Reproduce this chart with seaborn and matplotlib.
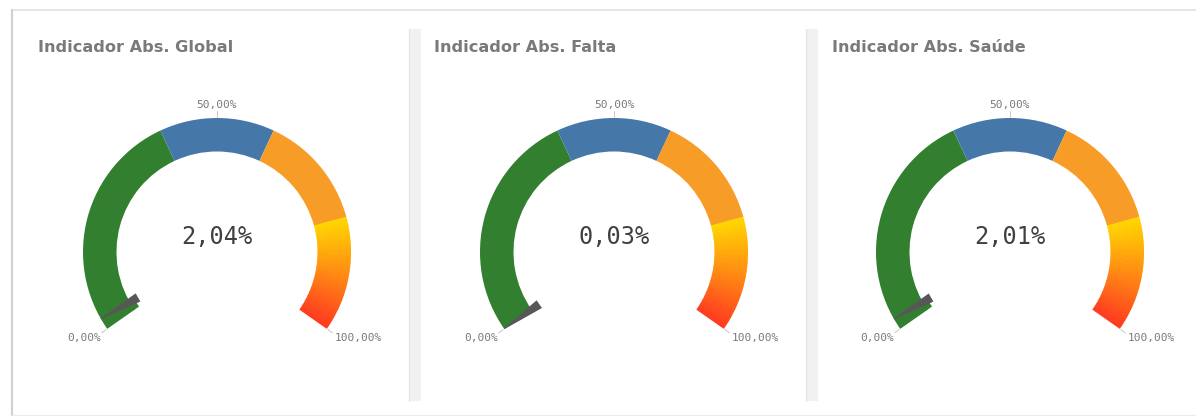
import numpy as np
import matplotlib
matplotlib.use("Agg")
import matplotlib.pyplot as plt
import seaborn as sns
from matplotlib.patches import Wedge, Polygon, Rectangle
from matplotlib.lines import Line2D
from matplotlib.colors import LinearSegmentedColormap

# ------------------------------
# Data
# ------------------------------
titles = ["Indicador Abs. Global", "Indicador Abs. Falta", "Indicador Abs. Saúde"]
values = [2.04, 0.03, 2.01]            # percent
band_edges = [0, 40, 60, 80, 100]      # percent
band_colors = ["#32802f", "#4677a9", "#f89c28", "gradient"]
tick_values = [0, 50, 100]
tick_labels = ["0,00%", "50,00%", "100,00%"]

# ------------------------------
# Style
# ------------------------------
sns.set_theme(style="white")
plt.rcParams["font.family"] = ["DejaVu Sans"]

W, H, DPI = 1196, 416, 100
R = 134                 # gauge outer radius in px
SWEEP = 250.0
START = 215.0
grad_cmap = LinearSegmentedColormap.from_list("hot", ["#ffd600", "#ff8c12", "#ff3b1e"])


def angle(v):
    return START - SWEEP * v / 100.0


def pct(v):
    return f"{v:.2f}".replace(".", ",") + "%"


fig = plt.figure(figsize=(W / DPI, H / DPI), dpi=DPI)
fig.patch.set_facecolor("white")

# frame + separators
fig.add_artist(Line2D([12 / W, 1], [1 - 10 / H, 1 - 10 / H], color="#e6e6e6", lw=1.5))
fig.add_artist(Line2D([12 / W, 12 / W], [0, 1 - 10 / H], color="#d0d0d0", lw=1.5))
fig.add_artist(Line2D([12 / W, 1], [1.5 / H, 1.5 / H], color="#ececec", lw=1))
for sx in [409, 806]:
    fig.add_artist(Rectangle((sx / W, 1 - 401 / H), 12 / W, 372 / H,
                             facecolor="#f1f1f1", edgecolor="none"))
    fig.add_artist(Line2D([sx / W, sx / W], [1 - 401 / H, 1 - 29 / H], color="#e6e6e6", lw=1))

centers_x = [217, 614, 1010]
center_y = 252
title_x = [38, 434, 832]

for i, (title, val) in enumerate(zip(titles, values)):
    cx = centers_x[i]
    half = 1.6 * R
    ax = fig.add_axes([(cx - half) / W, (H - center_y - half) / H, 2 * half / W, 2 * half / H])
    ax.set_xlim(-1.6, 1.6)
    ax.set_ylim(-1.6, 1.6)
    ax.set_aspect("equal")
    ax.axis("off")

    # bands
    for j in range(len(band_edges) - 1):
        a, b = band_edges[j], band_edges[j + 1]
        if band_colors[j] == "gradient":
            steps = 60
            for k in range(steps):
                va = a + (b - a) * k / steps
                vb = a + (b - a) * (k + 1) / steps
                ax.add_patch(Wedge((0, 0), 1.0, angle(vb), angle(va) + 0.3, width=0.25,
                                   facecolor=grad_cmap(k / (steps - 1)), edgecolor="none"))
        else:
            ax.add_patch(Wedge((0, 0), 1.0, angle(b), angle(a), width=0.25,
                               facecolor=band_colors[j], edgecolor="none"))

    # filled part up to value (slightly thicker)
    seg = np.searchsorted(band_edges, val, side="right") - 1
    seg_color = band_colors[min(seg, len(band_colors) - 1)]
    if seg_color == "gradient":
        seg_color = grad_cmap(0.5)
    if val > 0.2:
        ax.add_patch(Wedge((0, 0), 0.76, angle(val), angle(0), width=0.05,
                           facecolor=seg_color, edgecolor="none"))

    # needle
    t = np.radians(angle(val))
    n = np.array([np.cos(t), np.sin(t)])
    p = np.array([-np.sin(t), np.cos(t)])
    needle = [n * 1.0 + p * 0.004, n * 0.68 + p * 0.035, n * 0.68 - p * 0.035, n * 1.0 - p * 0.004]
    ax.add_patch(Polygon(needle, closed=True, facecolor="#575757", edgecolor="none", zorder=5))

    # ticks + labels
    for tv, tl in zip(tick_values, tick_labels):
        ta = np.radians(angle(tv))
        ax.plot([1.01 * np.cos(ta), 1.05 * np.cos(ta)], [1.01 * np.sin(ta), 1.05 * np.sin(ta)],
                color="#cccccc", lw=0.8)
        if tv == 0:
            ax.text(1.06 * np.cos(ta), 1.06 * np.sin(ta), tl, ha="right", va="top",
                    fontsize=8, color="#7a7a7a", family="DejaVu Sans Mono")
        elif tv == 100:
            ax.text(1.06 * np.cos(ta) + 0.01, 1.06 * np.sin(ta), tl, ha="left", va="top",
                    fontsize=8, color="#7a7a7a", family="DejaVu Sans Mono")
        else:
            ax.text(0, 1.06, tl, ha="center", va="bottom",
                    fontsize=8, color="#7a7a7a", family="DejaVu Sans Mono")

    # value
    ax.text(0, 0.11, pct(val), ha="center", va="center", fontsize=17,
            color="#404040", family="DejaVu Sans Mono")

    fig.text(title_x[i] / W, 1 - 47 / H, title, ha="left", va="center", fontsize=11.6,
             fontweight="bold", color="#7a7a7a", family="DejaVu Sans")

fig.savefig("out.png", dpi=DPI, facecolor="white")
